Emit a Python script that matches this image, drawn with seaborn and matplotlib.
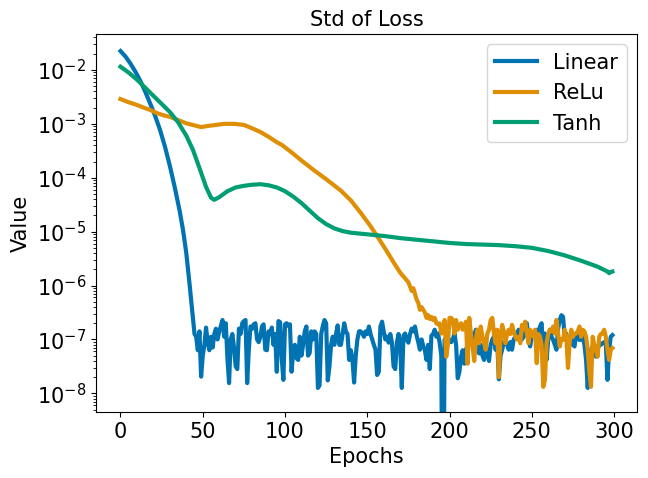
import numpy as np
import pandas as pd
import seaborn as sns
import matplotlib
matplotlib.use("Agg")
import matplotlib.pyplot as plt

# values as log10(std)
series_names = ["Linear", "ReLu", "Tanh"]

# Linear: smooth fall, then noisy floor (one value per epoch from 46)
linear_smooth_epochs = [0, 3, 6, 9, 12, 15, 18, 21, 24, 27, 30, 33, 36, 38, 40, 42, 44, 45]
linear_smooth_log = [-1.65, -1.75, -1.88, -2.03, -2.20, -2.40, -2.62, -2.85, -3.11, -3.42,
                     -3.78, -4.18, -4.62, -4.97, -5.40, -5.98, -6.60, -6.90]
linear_noise_log = [
    -6.95, -7.20, -6.85, -7.69, -7.30, -7.10, -6.78, -7.05, -7.20, -6.95,  # 46-55
    -7.15, -6.90, -6.80, -7.00, -6.85, -6.75, -6.64, -6.95, -6.70, -7.35,  # 56-65
    -7.81, -7.00, -6.90, -7.15, -7.50, -7.55, -6.80, -6.90, -6.70, -6.66,  # 66-75
    -6.64, -7.81, -7.19, -6.76, -6.80, -6.72, -6.70, -7.00, -7.05, -6.95,  # 76-85
    -6.76, -6.72, -7.19, -7.20, -6.85, -6.90, -6.78, -7.10, -6.90, -7.60,  # 86-95
    -6.66, -6.68, -7.35, -7.75, -6.72, -6.70, -6.75, -6.72, -7.60, -7.20,  # 96-105
    -7.10, -7.35, -7.38, -6.95, -7.30, -7.10, -6.85, -6.76, -7.30, -7.25,  # 106-115
    -6.85, -7.00, -6.85, -6.90, -7.90, -7.85, -6.90, -6.75, -6.64, -6.70,  # 116-125
    -7.76, -7.50, -7.10, -6.95, -7.10, -6.90, -6.74, -7.10, -7.10, -6.90,  # 126-135
    -6.70, -6.85, -6.90, -7.38, -7.20, -7.38, -7.80, -7.30, -7.00, -6.85,  # 136-145
    -6.85, -6.89, -6.95, -6.85, -6.90, -6.76, -6.90, -7.00, -7.10, -7.19,  # 146-155
    -7.66, -7.60, -6.76, -6.67, -6.85, -7.00, -6.95, -7.06, -6.90, -7.06,  # 156-165
    -7.50, -7.55, -7.06, -6.90, -7.10, -7.90, -6.93, -6.89, -7.00, -7.06,  # 166-175
    -6.90, -6.80, -6.85, -6.76, -6.93, -7.05, -7.19, -7.00, -7.12, -7.20,  # 176-185
    -7.38, -7.10, -7.55, -6.93, -6.90, -6.82, -6.95, -6.89, -7.06, -7.30,  # 186-195
    -12.0, -7.00, -7.06, -7.00, -7.00, -7.05, -7.00, -6.89, -7.10, -7.72,  # 196-205
    -7.60, -7.32, -7.20, -7.45, -7.19, -7.10, -7.00, -6.95, -6.89, -7.00,  # 206-215
    -6.82, -6.95, -7.26, -7.10, -7.30, -7.38, -7.12, -7.25, -7.40, -7.10,  # 216-225
    -7.00, -6.95, -7.19, -7.05, -7.74, -7.30, -7.19, -7.05, -7.00, -7.10,  # 226-235
    -7.19, -7.05, -7.19, -7.00, -6.95, -6.90, -6.82, -6.95, -7.00, -6.95,  # 236-245
    -6.89, -6.70, -7.00, -7.13, -6.95, -6.89, -6.85, -6.82, -6.90, -6.76,  # 246-255
    -6.70, -7.32, -6.89, -7.38, -7.00, -6.82, -6.95, -7.01, -7.10, -7.19,  # 256-265
    -6.80, -6.64, -6.55, -6.58, -6.95, -6.89, -7.19, -7.05, -7.01, -7.10,  # 266-275
    -7.13, -6.89, -6.95, -7.01, -7.00, -6.95, -7.10, -7.38, -7.90, -7.26,  # 276-285
    -7.20, -7.13, -7.20, -7.32, -7.20, -7.07, -7.10, -7.07, -7.05, -7.07,  # 286-295
    -7.75, -7.19, -6.95, -6.92,                                            # 296-299
]

# ReLu: slow decline with shoulder, then noisy floor from 181
relu_smooth_epochs = [0, 5, 10, 15, 18, 22, 26, 30, 35, 40, 45, 49, 53, 58, 63, 69, 75, 79,
                      85, 90, 95, 98, 104, 110, 118, 126, 134, 140, 146, 152, 157, 162, 166,
                      170, 175, 177, 178, 180]
relu_smooth_log = [-2.54, -2.60, -2.65, -2.71, -2.74, -2.80, -2.84, -2.87, -2.93, -2.99,
                   -3.03, -3.06, -3.04, -3.02, -3.00, -3.00, -3.02, -3.07, -3.15, -3.24,
                   -3.34, -3.39, -3.53, -3.68, -3.87, -4.05, -4.24, -4.42, -4.65, -4.90,
                   -5.13, -5.37, -5.57, -5.76, -5.94, -6.10, -6.05, -6.26]
relu_noise_log = [
    -6.32, -6.45, -6.40, -6.45, -6.50, -6.60, -6.55, -6.62, -6.58, -6.64,  # 181-190
    -6.60, -6.70, -6.72, -6.70, -6.89, -6.85, -6.64, -7.32, -7.10, -6.60,  # 191-200
    -6.60, -6.64, -6.89, -6.64, -6.82, -6.76, -6.70, -6.82, -6.76, -6.67,  # 201-210
    -7.45, -6.60, -6.89, -7.13, -7.40, -7.01, -6.82, -7.07, -6.76, -6.95,  # 211-220
    -7.05, -7.19, -6.89, -6.82, -6.64, -6.60, -6.89, -7.07, -6.82, -7.70,  # 221-230
    -6.95, -6.73, -6.85, -7.07, -6.89, -6.82, -6.90, -6.73, -6.85, -6.95,  # 231-240
    -7.00, -6.95, -7.07, -6.73, -6.80, -6.67, -6.89, -7.07, -6.82, -6.90,  # 241-250
    -6.95, -6.82, -7.44, -6.90, -6.95, -7.10, -7.88, -7.75, -7.07, -6.90,  # 251-260
    -6.82, -6.85, -6.76, -6.89, -6.64, -6.89, -7.13, -7.00, -7.01, -6.82,  # 261-270
    -6.95, -7.53, -7.07, -6.82, -6.95, -6.90, -6.89, -6.85, -6.76, -6.95,  # 271-280
    -6.82, -6.85, -6.95, -7.19, -7.60, -7.88, -6.95, -7.10, -7.19, -7.32,  # 281-290
    -6.95, -6.90, -6.89, -6.82, -6.95, -7.19, -7.38, -7.19, -7.16,         # 291-299
]

# Tanh: smooth curve
tanh_epochs = [0, 5, 10, 15, 20, 25, 30, 35, 40, 44, 48, 52, 55, 57, 60, 65, 70, 75, 80, 85,
               90, 95, 100, 105, 110, 115, 120, 125, 130, 135, 140, 150, 160, 170, 180, 190,
               200, 210, 220, 230, 240, 250, 260, 270, 280, 290, 296, 297, 298, 299]
tanh_log = [-1.94, -2.05, -2.18, -2.33, -2.48, -2.63, -2.78, -2.97, -3.22, -3.48, -3.82,
            -4.17, -4.37, -4.41, -4.36, -4.25, -4.18, -4.15, -4.13, -4.12, -4.14, -4.18,
            -4.25, -4.35, -4.47, -4.61, -4.75, -4.86, -4.94, -4.99, -5.02, -5.05, -5.08,
            -5.12, -5.15, -5.18, -5.21, -5.23, -5.24, -5.25, -5.27, -5.30, -5.36, -5.44,
            -5.54, -5.65, -5.74, -5.77, -5.75, -5.74]

linear_x = linear_smooth_epochs + list(range(46, 300))
linear_y = 10 ** np.array(linear_smooth_log + linear_noise_log)
relu_x = relu_smooth_epochs + list(range(181, 300))
relu_y = 10 ** np.array(relu_smooth_log + relu_noise_log)
tanh_x = tanh_epochs
tanh_y = 10 ** np.array(tanh_log)

df = pd.concat([
    pd.DataFrame({"Epochs": linear_x, "Value": linear_y, "Model": series_names[0]}),
    pd.DataFrame({"Epochs": relu_x, "Value": relu_y, "Model": series_names[1]}),
    pd.DataFrame({"Epochs": tanh_x, "Value": tanh_y, "Model": series_names[2]}),
])

colors = sns.color_palette("colorblind", 3)

fig, ax = plt.subplots(figsize=(6.48, 4.78), dpi=100)
fig.subplots_adjust(left=0.148, right=0.983, bottom=0.138, top=0.929)

for name, c in zip(series_names, colors):
    sub = df[df["Model"] == name]
    sns.lineplot(x=sub["Epochs"], y=sub["Value"], ax=ax, color=c, linewidth=3,
                 label=name, estimator=None)

ax.set_yscale("log")
ax.set_ylim(10 ** -8.347, 10 ** -1.332)
ax.set_xlim(-14.95, 313.95)

ax.set_title("Std of Loss", fontsize=15)
ax.set_xlabel("Epochs", fontsize=15)
ax.set_ylabel("Value", fontsize=15)
ax.tick_params(labelsize=15)
ax.legend(loc="upper right", fontsize=15)

plt.savefig("out.png", dpi=100)
